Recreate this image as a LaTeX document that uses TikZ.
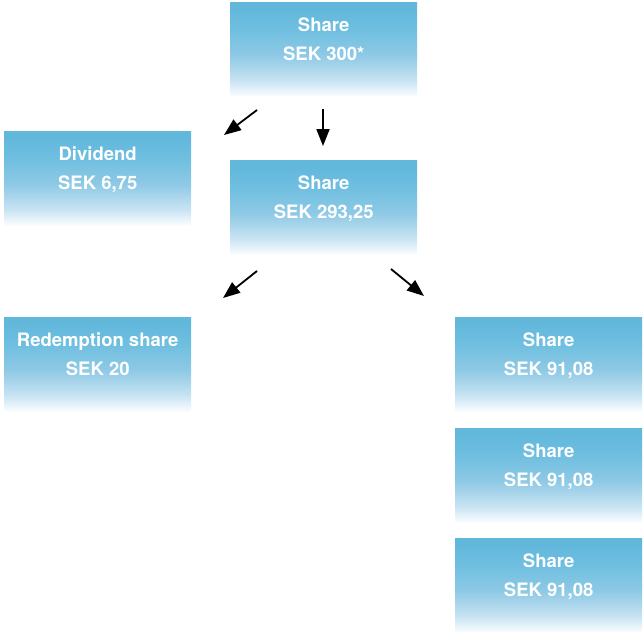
\documentclass[tikz,border=0pt]{standalone}
\usepackage{fontspec}
\setmainfont{TeX Gyre Heros}
\usetikzlibrary{arrows.meta}
\pgfdeclareverticalshading{boxfade}{100bp}{rgb(0bp)=(1,1,1); rgb(25bp)=(1,1,1); rgb(26.5bp)=(0.96,0.98,0.995); rgb(34bp)=(0.78,0.89,0.95); rgb(47bp)=(0.56,0.79,0.9); rgb(60bp)=(0.44,0.75,0.88); rgb(72bp)=(0.38,0.72,0.86); rgb(100bp)=(0.38,0.72,0.86)}
\tikzset{
  sharebox/.style={rectangle, draw=none, shading=boxfade, minimum width=187pt, minimum height=95pt, inner sep=0pt, anchor=north west},
  boxtxt/.style={text=white, font=\bfseries\fontsize{18.5}{20}\selectfont, anchor=base, inner sep=0pt},
  arr/.style={line width=1.8pt, -{Triangle[length=17pt,width=13pt]}}
}
\newcommand\mkbox[5]{%
  \node[sharebox] (#1) at (#2,#3) {};
  \node[boxtxt] (#1t) at ([yshift=-29pt]#1.north) {#4};
  \node[boxtxt] (#1v) at ([yshift=-58.5pt]#1.north) {#5};
}
\begin{document}
\begin{tikzpicture}[x=1pt,y=-1pt]
\useasboundingbox (0,0) rectangle (643,632);
\mkbox{s0}{230}{2}{Share}{SEK 300*}
\mkbox{div}{4}{131}{Dividend}{SEK 6,75}
\mkbox{s1}{230}{160}{Share}{SEK 293,25}
\mkbox{red}{4}{317}{Redemption share}{SEK 20}
\mkbox{r1}{455}{317}{Share}{SEK 91,08}
\mkbox{r2}{455}{428}{Share}{SEK 91,08}
\mkbox{r3}{455}{538}{Share}{SEK 91,08}
\coordinate (a1s) at (257,110);
\coordinate (a1e) at (224,135);
\coordinate (a2s) at (323,109);
\coordinate (a2e) at (323,146);
\coordinate (a3s) at (257,271);
\coordinate (a3e) at (223,298);
\coordinate (a4s) at (391,269);
\coordinate (a4e) at (424,296);
\draw[arr] (a1s) -- (a1e);
\draw[arr] (a2s) -- (a2e);
\draw[arr] (a3s) -- (a3e);
\draw[arr] (a4s) -- (a4e);
\end{tikzpicture}
\end{document}
